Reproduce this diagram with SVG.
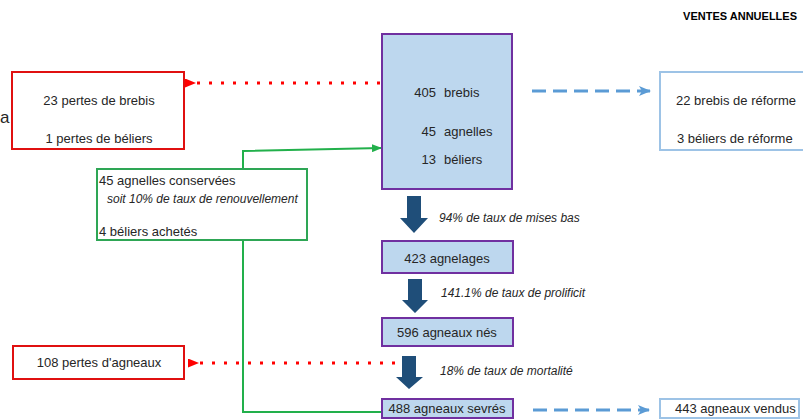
<svg xmlns="http://www.w3.org/2000/svg" width="803" height="420" viewBox="0 0 803 420">
<defs>
<style>
.t{font-family:"Liberation Sans",Arial,sans-serif;font-size:13px;fill:#262626}
.i{font-family:"Liberation Sans",Arial,sans-serif;font-size:12px;font-style:italic;fill:#262626}
.h{font-family:"Liberation Sans",Arial,sans-serif;font-size:11px;font-weight:bold;fill:#000}
.red{fill:#fff;stroke:#e01010;stroke-width:2}
.pur{fill:#bdd7ee;stroke:#7030a0;stroke-width:2}
.lb{fill:#fff;stroke:#9dc3e6;stroke-width:2}
.grn{fill:#fff;stroke:#2ea655;stroke-width:2}
.rd{fill:none;stroke:#ff0000;stroke-width:3;stroke-dasharray:3 9}
.bd{fill:none;stroke:#5b9bd5;stroke-width:3;stroke-dasharray:14 7}
.gl{fill:none;stroke:#22b04b;stroke-width:2}
.big{fill:#1f4e79}
</style>
<marker id="mr" markerWidth="11" markerHeight="9" refX="1" refY="4.5" orient="auto" markerUnits="userSpaceOnUse"><path d="M11,0 L0,4.5 L11,9 Z" fill="#ff0000"/></marker>
<marker id="mb" markerWidth="12" markerHeight="10" refX="11" refY="5" orient="auto" markerUnits="userSpaceOnUse"><path d="M0,0 L12,5 L0,10 L3,5 Z" fill="#5b9bd5"/></marker>
<marker id="mg" markerWidth="10" markerHeight="8" refX="9" refY="4" orient="auto" markerUnits="userSpaceOnUse"><path d="M0,0 L10,4 L0,8 Z" fill="#22b04b"/></marker>
</defs>
<rect width="803" height="420" fill="#fff"/>
<text class="t" x="0" y="123" style="font-size:17px">a</text>
<text class="h" x="797" y="20" text-anchor="end">VENTES ANNUELLES</text>

<g id="connectors">
<line class="rd" x1="380" y1="83" x2="195" y2="83" marker-end="url(#mr)"/>
<line class="rd" x1="395" y1="363" x2="198" y2="363" marker-end="url(#mr)"/>
<line class="bd" x1="532" y1="91" x2="650" y2="91" marker-end="url(#mb)"/>
<line class="bd" x1="533" y1="410" x2="649" y2="410" marker-end="url(#mb)"/>
<polyline class="gl" points="243,169 243,151 381,148" marker-end="url(#mg)"/>
<polyline class="gl" points="243,240 243,412 382,412"/>
<path class="big" d="M407,196 H421 V218 H428 L414,233 L400,218 H407 Z"/>
<path class="big" d="M408,279 H422 V300 H428 L415,313 L402,300 H408 Z"/>
<path class="big" d="M402,356 H416 V377 H423 L409,389 L396,377 H402 Z"/>
<text class="i" x="439" y="222">94% de taux de mises bas</text>
<text class="i" x="441" y="297">141.1% de taux de prolificit</text>
<text class="i" x="440" y="375">18% de taux de mortalité</text>
</g>

<g id="pertes-adultes">
<rect class="red" x="12" y="72" width="172" height="77"/>
<text class="t" x="99" y="105" text-anchor="middle">23 pertes de brebis</text>
<text class="t" x="99" y="143" text-anchor="middle">1 pertes de béliers</text>
</g>

<g id="troupeau">
<rect class="pur" x="382" y="34" width="130" height="155"/>
<text class="t" x="436" y="97" text-anchor="end">405</text>
<text class="t" x="444" y="97">brebis</text>
<text class="t" x="436" y="136" text-anchor="end">45</text>
<text class="t" x="444" y="136">agnelles</text>
<text class="t" x="436" y="164" text-anchor="end">13</text>
<text class="t" x="444" y="164">béliers</text>
</g>

<g id="reformes">
<rect class="lb" x="660" y="72" width="150" height="78"/>
<text class="t" x="676" y="105">22 brebis de réforme</text>
<text class="t" x="677" y="143">3 béliers de réforme</text>
</g>

<g id="renouvellement">
<rect class="grn" x="97" y="169" width="210" height="71"/>
<text class="t" x="99" y="185">45 agnelles conservées</text>
<text class="i" x="107" y="203">soit 10% de taux de renouvellement</text>
<text class="t" x="99" y="236">4 béliers achetés</text>
</g>

<g id="agnelages">
<rect class="pur" x="382" y="241" width="131" height="32"/>
<text class="t" x="447" y="263" text-anchor="middle">423 agnelages</text>
</g>

<g id="agneaux-nes">
<rect class="pur" x="382" y="318" width="131" height="28"/>
<text class="t" x="447" y="337" text-anchor="middle">596 agneaux nés</text>
</g>

<g id="pertes-agneaux">
<rect class="red" x="13" y="346" width="171" height="33"/>
<text class="t" x="99" y="367" text-anchor="middle">108 pertes d'agneaux</text>
</g>

<g id="agneaux-sevres">
<rect class="pur" x="382" y="399" width="131" height="19"/>
<text class="t" x="447" y="413" text-anchor="middle">488 agneaux sevrés</text>
</g>

<g id="agneaux-vendus">
<rect class="lb" x="660" y="399" width="139" height="19"/>
<text class="t" x="675" y="413">443 agneaux vendus</text>
</g>
</svg>
